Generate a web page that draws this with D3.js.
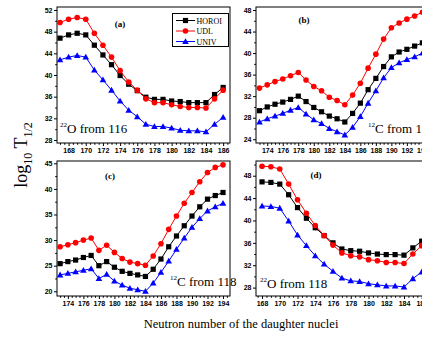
<!DOCTYPE html>
<html><head><meta charset="utf-8">
<script src="https://cdn.jsdelivr.net/npm/d3@7"></script>
<style>
html,body{margin:0;padding:0;background:#fff;}
svg{display:block;}
</style></head>
<body>
<script>
// ---------- DATA ----------
const seriesNames = ["HOROI", "UDL", "UNIV"];
const seriesColors = ["#000000", "#ff0000", "#0000ff"];

// (a) 22O from 116
const xA = [167,168,169,170,171,172,173,174,175,176,177,178,179,180,181,182,183,184,185,186];
const horoiA = [46.8,47.4,47.7,47.4,45.5,43.7,41.9,39.9,38.3,37.1,35.9,35.5,35.5,35.2,35.1,34.9,34.9,34.9,36.4,37.7];
const udlA   = [49.7,50.3,50.6,50.3,47.7,45.5,43.3,40.8,38.7,37.2,35.6,34.9,34.9,34.5,34.2,34.0,34.0,33.9,35.6,37.2];
const univA  = [42.8,43.3,43.6,43.3,40.9,39.1,37.2,35.2,33.5,32.3,30.9,30.5,30.5,30.2,29.8,29.7,29.7,29.5,30.9,32.2];

// (b) 12C from 116
const xB = [173,174,175,176,177,178,179,180,181,182,183,184,185,186,187,188,189,190,191,192,193,194];
const horoiB = [29.3,30.0,30.5,30.9,31.4,32.0,31.0,29.9,29.1,28.3,27.8,27.2,28.8,30.7,33.2,35.3,37.5,39.3,40.2,40.7,41.3,41.9];
const udlB   = [33.5,34.1,34.7,35.2,35.8,36.4,35.0,33.8,33.0,31.8,31.2,30.4,32.2,34.4,37.2,39.8,42.6,44.7,45.6,46.3,46.9,47.6];
const univB  = [27.2,27.8,28.3,28.8,29.4,29.9,28.7,27.6,26.9,26.0,25.4,24.8,26.2,28.2,30.7,33.0,35.4,37.3,38.2,38.8,39.3,40.0];

// (c) 12C from 118
const xC = [173,174,175,176,177,178,179,180,181,182,183,184,185,186,187,188,189,190,191,192,193,194];
const horoiC = [25.4,25.8,26.1,26.6,27.0,25.0,25.8,24.7,23.9,23.5,23.2,22.9,24.3,26.3,28.7,30.8,32.8,34.7,36.5,38.0,38.7,39.3];
const udlC   = [28.7,29.1,29.5,30.0,30.4,28.0,29.0,27.6,26.4,25.7,25.4,25.1,26.9,29.3,32.1,34.7,37.2,39.3,41.4,43.2,44.2,44.7];
const univC  = [23.2,23.5,23.8,24.1,24.4,22.5,23.3,22.0,21.2,20.6,20.3,20.0,21.6,23.7,25.9,28.2,30.4,32.5,34.2,35.7,36.5,37.2];

// (d) 22O from 118
const xD = [168,169,170,171,172,173,174,175,176,177,178,179,180,181,182,183,184,185,186];
const horoiD = [46.9,46.8,46.5,44.6,42.3,40.4,38.7,37.3,36.0,34.9,34.6,34.5,34.2,34.0,33.9,33.9,33.8,35.1,36.3];
const udlD   = [49.7,49.6,49.2,46.5,43.7,41.3,39.1,37.3,35.6,34.2,33.7,33.5,33.0,32.8,32.5,32.5,32.3,34.0,35.5];
const univD  = [42.6,42.5,42.2,39.9,37.4,35.5,33.7,32.2,30.9,29.7,29.2,29.1,28.7,28.5,28.3,28.3,28.1,29.6,30.8];

// tick labels
const xTicksA = [168,170,172,174,176,178,180,182,184,186];
const yTicksA = [28,32,36,40,44,48,52];
const xTicksB = [174,176,178,180,182,184,186,188,190,192,194];
const yTicksB = [24,28,32,36,40,44,48];
const xTicksC = [174,176,178,180,182,184,186,188,190,192,194];
const yTicksC = [20,25,30,35,40,45];
const xTicksD = [168,170,172,174,176,178,180,182,184,186];
const yTicksD = [28,32,36,40,44,48];

const panelLabels = ["(a)", "(b)", "(c)", "(d)"];
const nucleusMass = ["22", "12", "12", "22"];
const nucleusSym  = ["O", "C", "C", "O"];
const parentText  = [" from 116", " from 116", " from 118", " from 118"];

const xTitle = "Neutron number of the daughter nuclei";

// ---------- LAYOUT ----------
const W = 422, H = 338;
const svg = d3.select("body").append("svg").attr("width", W).attr("height", H);

const panels = [
  {x: xA, ys: [horoiA, udlA, univA], xt: xTicksA, yt: yTicksA, minorY: 1,
   box: [57, 230, 7, 143], xd: [166.65, 186.8], yd: [27.45, 52.55],
   lab: [120, 27], note: [60, 133], legend: true},
  {x: xB, ys: [horoiB, udlB, univB], xt: xTicksB, yt: yTicksB, minorY: 1,
   box: [256, 429, 7, 143], xd: [172.55, 194.85], yd: [23.3, 48.56],
   lab: [304, 23], note: [368, 133]},
  {x: xC, ys: [horoiC, udlC, univC], xt: xTicksC, yt: yTicksC, minorY: 1,
   box: [57, 230, 161, 296], xd: [172.6, 194.9], yd: [19.08, 45.45],
   lab: [110, 179], note: [170, 286]},
  {x: xD, ys: [horoiD, udlD, univD], xt: xTicksD, yt: yTicksD, minorY: 1,
   box: [256, 429, 161, 296], xd: [167.32, 186.82], yd: [26.5, 50.63],
   lab: [316, 178], note: [260, 288]}
];

const tickFont = "bold 7px 'Liberation Sans', Arial, sans-serif";
const serif = "'Liberation Serif', 'Times New Roman', serif";

function marker(g, type, cx, cy, color) {
  if (type === 0) {
    g.append("rect").attr("x", cx - 2.6).attr("y", cy - 2.6).attr("width", 5.2).attr("height", 5.2).attr("fill", color);
  } else if (type === 1) {
    g.append("circle").attr("cx", cx).attr("cy", cy).attr("r", 2.8).attr("fill", color);
  } else {
    const s = 3.3;
    g.append("path").attr("d", `M${cx},${cy - s}L${cx + s},${cy + s * 0.75}L${cx - s},${cy + s * 0.75}Z`).attr("fill", color);
  }
}

panels.forEach((p, i) => {
  const [l, r, t, b] = p.box;
  const xs = d3.scaleLinear().domain(p.xd).range([l, r]);
  const ys = d3.scaleLinear().domain(p.yd).range([b, t]);
  const g = svg.append("g");

  // frame
  g.append("rect").attr("x", l).attr("y", t).attr("width", r - l).attr("height", b - t)
    .attr("fill", "none").attr("stroke", "#000").attr("stroke-width", 1);

  // x axis
  const xAxis = d3.axisBottom(xs).tickValues(p.xt).tickSize(3).tickPadding(2).tickFormat(d3.format("d"));
  const xg = g.append("g").attr("transform", `translate(0,${b})`).call(xAxis);
  xg.select(".domain").remove();
  xg.selectAll("text").style("font", tickFont).attr("fill", "#000");
  // minor x ticks
  const minorX = d3.range(Math.ceil(p.xd[0] * 2) / 2, p.xd[1], 0.5).filter(v => !p.xt.includes(v));
  const mx = d3.axisBottom(xs).tickValues(minorX).tickSize(1.8).tickFormat("");
  const mxg = g.append("g").attr("transform", `translate(0,${b})`).call(mx);
  mxg.select(".domain").remove();

  // y axis
  const yAxis = d3.axisLeft(ys).tickValues(p.yt).tickSize(3).tickPadding(1.5).tickFormat(d3.format("d"));
  const yg = g.append("g").attr("transform", `translate(${l},0)`).call(yAxis);
  yg.select(".domain").remove();
  yg.selectAll("text").style("font", tickFont).attr("fill", "#000");
  const step = p.yt[1] - p.yt[0];
  const minorYv = p.yt.slice(0, -1).map(v => v + step / 2).concat([p.yt[p.yt.length - 1] + step / 2]).filter(v => v <= p.yd[1]);
  const my = d3.axisLeft(ys).tickValues(minorYv).tickSize(1.8).tickFormat("");
  const myg = g.append("g").attr("transform", `translate(${l},0)`).call(my);
  myg.select(".domain").remove();

  // clip
  const cid = "clip" + i;
  svg.append("clipPath").attr("id", cid).append("rect").attr("x", l - 4).attr("y", t - 4).attr("width", r - l + 8).attr("height", b - t + 8);
  const dg = g.append("g").attr("clip-path", `url(#${cid})`);

  // series
  p.ys.forEach((vals, si) => {
    const pts = p.x.map((xv, k) => [xv, vals[k]]);
    const line = d3.line().x(d => xs(d[0])).y(d => ys(d[1]));
    dg.append("path").attr("d", line(pts)).attr("fill", "none").attr("stroke", seriesColors[si]).attr("stroke-width", 1);
    pts.forEach(d => marker(dg, si, xs(d[0]), ys(d[1]), seriesColors[si]));
  });

  // panel label
  g.append("text").attr("x", p.lab[0]).attr("y", p.lab[1]).attr("text-anchor", "middle")
    .style("font", `bold 9px ${serif}`).text(panelLabels[i]);

  // annotation
  const nt = g.append("text").attr("x", p.note[0]).attr("y", p.note[1]).style("font-family", serif).style("font-size", "13px");
  nt.append("tspan").attr("dy", -6).style("font-size", "7px").text(nucleusMass[i]);
  nt.append("tspan").attr("dy", 6).text(nucleusSym[i] + parentText[i]);

  // legend
  if (p.legend) {
    const lg = g.append("g");
    lg.append("rect").attr("x", 172.5).attr("y", 13.5).attr("width", 56).attr("height", 33)
      .attr("fill", "#fff").attr("stroke", "#000").attr("stroke-width", 1);
    seriesNames.forEach((nm, si) => {
      const yy = 20.5 + si * 10.5;
      lg.append("line").attr("x1", 176).attr("x2", 195).attr("y1", yy).attr("y2", yy)
        .attr("stroke", seriesColors[si]).attr("stroke-width", 1);
      marker(lg, si, 185.5, yy, seriesColors[si]);
      lg.append("text").attr("x", 196.5).attr("y", yy + 3).style("font", `8px ${serif}`).text(nm);
    });
  }
});

// y title
const yt = svg.append("text").attr("transform", "translate(27,155) rotate(-90)")
  .attr("text-anchor", "middle").style("font-family", serif).style("font-size", "18px");
yt.append("tspan").text("log");
yt.append("tspan").attr("dy", 5).style("font-size", "12px").text("10");
yt.append("tspan").attr("dy", -5).text(" T");
yt.append("tspan").attr("dy", 5).style("font-size", "12px").text("1/2");

// x title
svg.append("text").attr("x", 241).attr("y", 328).attr("text-anchor", "middle")
  .style("font-family", serif).style("font-size", "12.5px").text(xTitle);
</script>
</body></html>
